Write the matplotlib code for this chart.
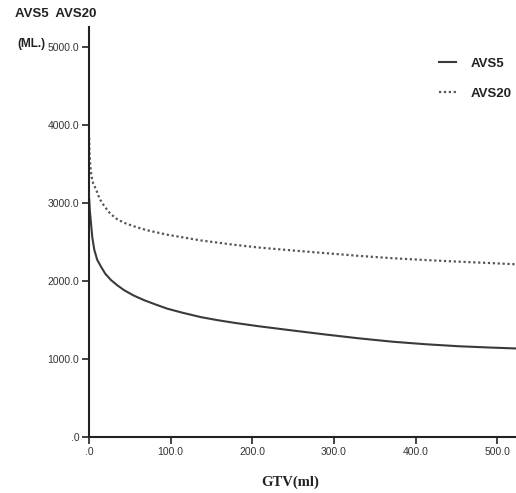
import matplotlib
matplotlib.use("Agg")
import matplotlib.pyplot as plt

# Data
avs5_x = [0.3, 1, 2.4, 4, 6.5, 10, 14.7, 20, 27, 35, 43, 55, 68, 82, 96, 115, 137, 157,
          178, 208, 250, 290, 330, 372, 412, 453, 490, 522]
avs5_y = [3040, 2900, 2742, 2560, 2397, 2270, 2181, 2090, 2009, 1940, 1880, 1810, 1750,
          1695, 1643, 1590, 1535, 1497, 1462, 1418, 1363, 1312, 1264, 1220, 1188, 1162,
          1146, 1134]

avs20_x = [0.2, 0.6, 1.5, 3, 5, 8.6, 13, 18.7, 26, 35, 45, 55, 70, 96, 137, 178, 208,
           250, 290, 330, 372, 412, 453, 490, 522]
avs20_y = [3830, 3650, 3480, 3340, 3250, 3172, 3050, 2956, 2860, 2784, 2735, 2698, 2650,
           2590, 2517, 2461, 2426, 2388, 2354, 2320, 2289, 2266, 2245, 2228, 2212]

x_ticks = [0, 100, 200, 300, 400, 500]
x_tick_labels = [".0", "100.0", "200.0", "300.0", "400.0", "500.0"]
y_ticks = [0, 1000, 2000, 3000, 4000, 5000]
y_tick_labels = [".0", "1000.0", "2000.0", "3000.0", "4000.0", "5000.0"]

fig = plt.figure(figsize=(5.16, 4.93), dpi=100)
ax = fig.add_axes([89/516, 1-437/493, 1-89/516, (437-27)/493])

ax.plot(avs5_x, avs5_y, color="#3a3a3a", lw=1.5, label="AVS5")
ax.plot(avs20_x, avs20_y, color="#555555", lw=1.6, linestyle=(0, (1, 1.2)), label="AVS20")

ax.set_xlim(0, 523)
ax.set_ylim(0, 5250)
ax.set_xticks(x_ticks)
ax.set_xticklabels(x_tick_labels)
ax.set_yticks(y_ticks)
ax.set_yticklabels(y_tick_labels)

for s in ["top", "right"]:
    ax.spines[s].set_visible(False)
for s in ["left", "bottom"]:
    ax.spines[s].set_color("#222222")
    ax.spines[s].set_linewidth(1.5)

ax.tick_params(direction="out", length=5, width=1.2, color="#222222",
               labelsize=7.5, labelcolor="#333333", pad=2)
for lab in ax.get_xticklabels() + ax.get_yticklabels():
    lab.set_family("Liberation Sans")

leg = ax.legend(loc="upper right", bbox_to_anchor=(1.018, 0.955), frameon=False,
                handlelength=1.3, handletextpad=1.1, labelspacing=1.35,
                prop={"family": "Liberation Sans", "weight": "bold", "size": 9.5})
for t in leg.get_texts():
    t.set_color("#222222")

fig.text(15/516, 1-14/493, "AVS5  AVS20", ha="left", va="center",
         fontsize=9.5, fontweight="bold", family="Liberation Sans", color="#222222")
fig.text(17/516, 1-44/493, "(ML.)", ha="left", va="center",
         fontsize=8.5, fontweight="bold", family="Liberation Sans", color="#222222")
fig.text(290/516, 1-482/493, "GTV(ml)", ha="center", va="center",
         fontsize=10.5, fontweight="bold", family="Liberation Serif", color="#222222")

fig.savefig("out.png", dpi=100, facecolor="white")
